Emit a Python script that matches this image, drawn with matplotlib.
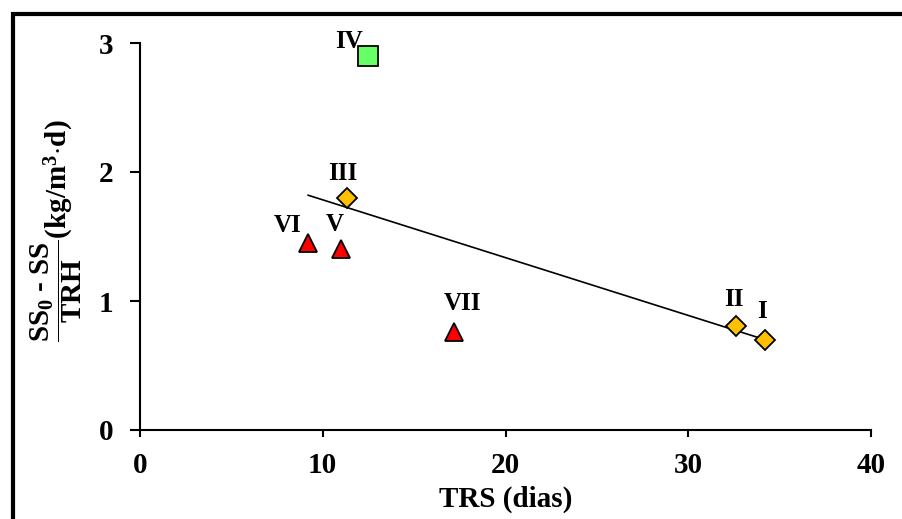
import matplotlib
matplotlib.use("Agg")
import matplotlib.pyplot as plt
from matplotlib.patches import Rectangle

plt.rcParams['font.family'] = ['Liberation Serif', 'DejaVu Serif']
plt.rcParams['font.weight'] = 'bold'
plt.rcParams['mathtext.fontset'] = 'custom'
plt.rcParams['mathtext.rm'] = 'Liberation Serif:bold'
plt.rcParams['mathtext.it'] = 'Liberation Serif:bold'
plt.rcParams['mathtext.bf'] = 'Liberation Serif:bold'

# Data
labels = ['I', 'II', 'III', 'IV', 'V', 'VI', 'VII']
trs = [34.2, 32.6, 11.3, 12.5, 11.0, 9.2, 17.2]
rate = [0.70, 0.81, 1.80, 2.90, 1.40, 1.45, 0.76]
groups = ['diamond', 'diamond', 'diamond', 'square', 'triangle', 'triangle', 'triangle']
trend_x = [9.2, 34.2]
trend_y = [1.82, 0.70]
xticks = [0, 10, 20, 30, 40]
yticks = [0, 1, 2, 3]

styles = {
    'diamond': dict(marker='D', ms=10.5, mfc='#FFC000'),
    'square': dict(marker='s', ms=14, mfc='#66FF66'),
    'triangle': dict(marker='^', ms=13, mfc='#FF0000'),
}
label_offsets = {
    'I': (-3, 28), 'II': (-2, 26), 'III': (-4, 24), 'IV': (-19, 14),
    'V': (-6, 25), 'VI': (-21, 17), 'VII': (8, 28),
}

fig = plt.figure(figsize=(9.02, 5.19), dpi=100)
ax = fig.add_axes([140/902, 1-430/519, (871-140)/902, (430-43)/519])

ax.plot(trend_x, trend_y, color='black', lw=1.2, zorder=2)
for lab, x, y, g in zip(labels, trs, rate, groups):
    st = styles[g]
    ax.plot([x], [y], linestyle='none', marker=st['marker'], ms=st['ms'],
             mfc=st['mfc'], mec='black', mew=1.3, zorder=3)
    dx, dy = label_offsets[lab]
    ax.annotate(lab, (x, y), xytext=(dx, dy), textcoords='offset pixels',
                ha='center', va='center', fontsize=18, fontweight='bold')

ax.set_xlim(0, 40)
ax.set_ylim(0, 3)
ax.set_xticks(xticks)
ax.set_yticks(yticks)
ax.tick_params(axis='x', direction='out', length=5, width=1.5, pad=11, labelsize=21)
ax.tick_params(axis='y', direction='out', length=7, width=1.5, pad=12, labelsize=21)
for lbl in ax.get_xticklabels() + ax.get_yticklabels():
    lbl.set_fontweight('bold')
for s in ['top', 'right']:
    ax.spines[s].set_visible(False)
for s in ['left', 'bottom']:
    ax.spines[s].set_linewidth(1.5)

ax.set_xlabel('TRS (dias)', fontsize=21, fontweight='bold')
ax.xaxis.set_label_coords(0.5, -0.145)
ax.set_ylabel(r'$\dfrac{\mathrm{SS}_0\text{ - }\mathrm{SS}}{\mathrm{TRH}}\mathrm{(kg/m^3{\cdot}d)}$',
              fontsize=21)
ax.yaxis.set_label_coords(-0.077, 0.515)

fig.patches.append(Rectangle((12.5/902, -0.5), 2.0, 0.5 + 1 - 14/519,
                             transform=fig.transFigure, fill=False,
                             edgecolor='black', lw=3, clip_on=False))

fig.savefig('out.png', dpi=100)
